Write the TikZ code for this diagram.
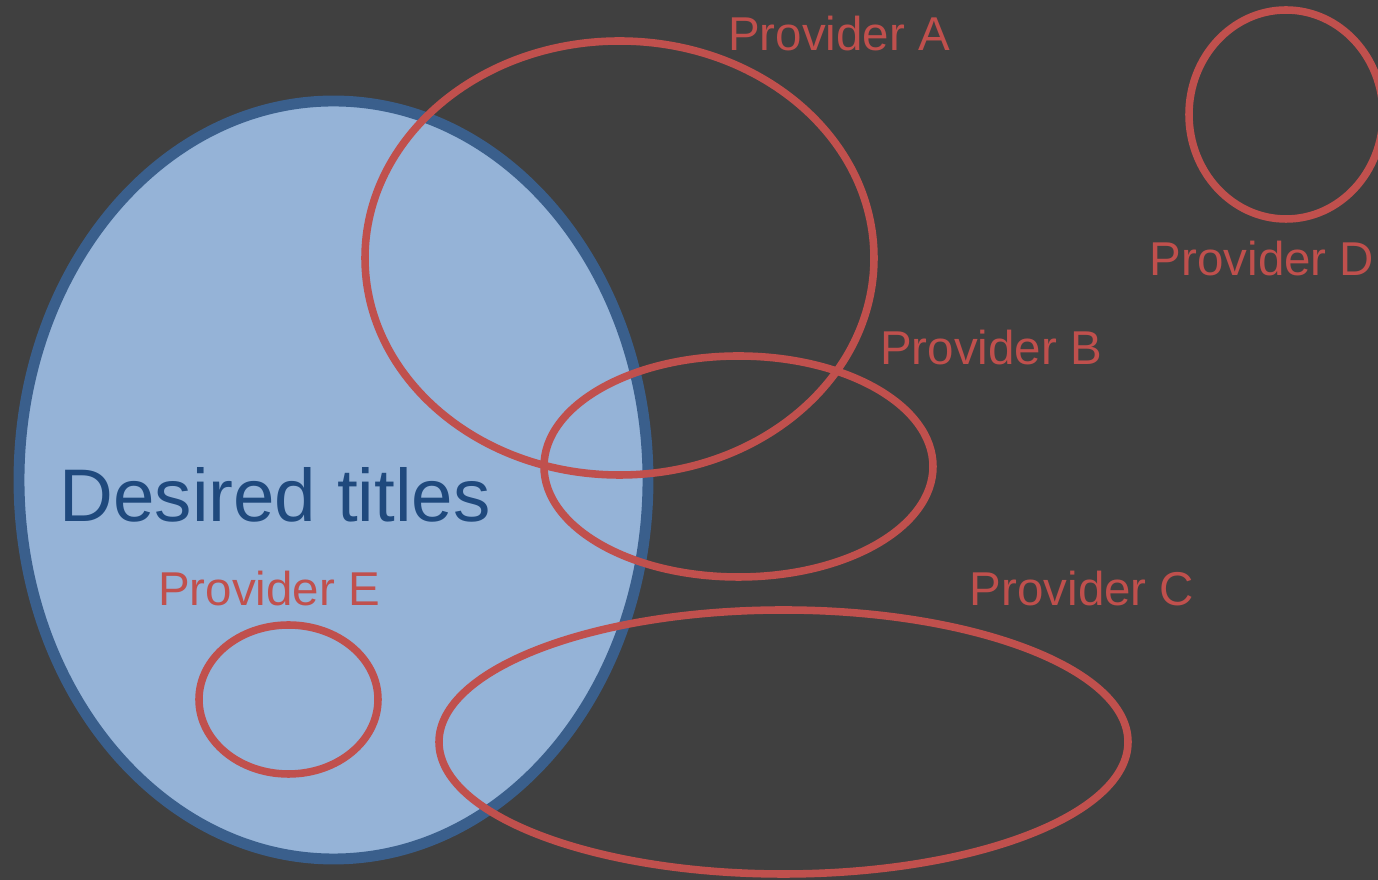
\documentclass[tikz,border=0pt]{standalone}
\usepackage{fontspec}
\setmainfont{Liberation Sans}
\definecolor{bggray}{HTML}{404040}
\definecolor{provred}{HTML}{C0504D}
\definecolor{desfill}{HTML}{95B3D7}
\definecolor{desborder}{HTML}{3A5F8C}
\definecolor{destext}{HTML}{1F497D}
\begin{document}
\begin{tikzpicture}[x=0.01cm, y=-0.01cm,
  provider/.style={draw=provred, line width=2.15pt},
  provtext/.style={text=provred, font=\fontsize{13.5}{16}\selectfont, inner sep=0pt, anchor=base}]
  \clip (0,0) rectangle (1378,880);
  \fill[bggray] (0,0) rectangle (1378,880);
  % desired set
  \draw[fill=desfill, draw=desborder, line width=3.1pt] (333.5,480) ellipse [x radius=314.5, y radius=379];
  \node[text=destext, font=\fontsize{21.2}{24}\selectfont, inner sep=0pt, anchor=base] (desired) at (275,522) {Desired titles};
  % providers
  \draw[provider] (619.5,258) ellipse [x radius=254.5, y radius=217];
  \draw[provider] (738.5,466.5) ellipse [x radius=194.5, y radius=110.5];
  \draw[provider] (783.5,742) ellipse [x radius=344.5, y radius=132];
  \draw[provider] (1286,114.5) ellipse [x radius=97, y radius=104.5];
  \draw[provider] (288.5,699.5) ellipse [x radius=89.5, y radius=74.5];
  \node[provtext] (provA) at (839,51) {Provider A};
  \node[provtext] (provB) at (991,365) {Provider B};
  \node[provtext] (provC) at (1082,606) {Provider C};
  \node[provtext] (provD) at (1262,276) {Provider D};
  \node[provtext] (provE) at (269,606) {Provider E};
\end{tikzpicture}
\end{document}
